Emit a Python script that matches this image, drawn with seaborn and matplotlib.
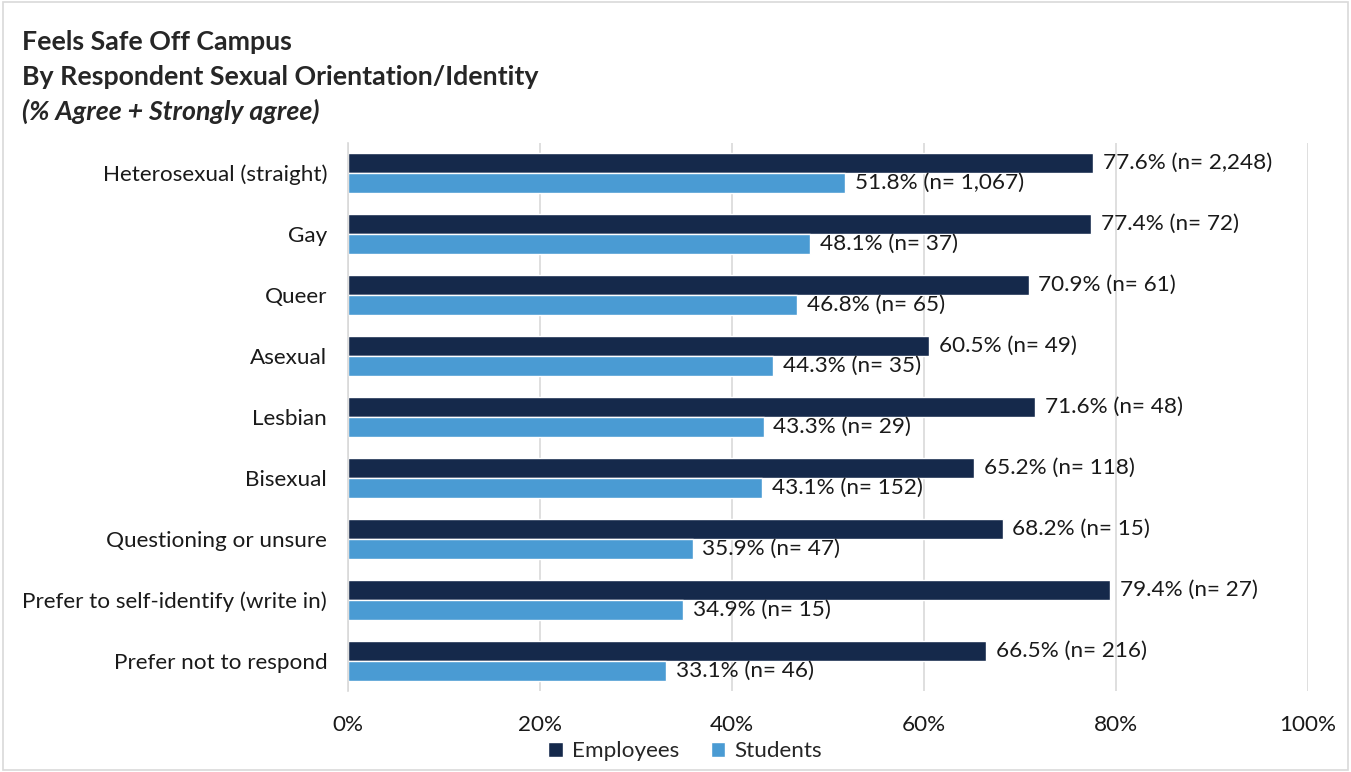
import matplotlib
matplotlib.use("Agg")
import matplotlib.pyplot as plt
import seaborn as sns
import pandas as pd
from matplotlib.patches import Patch, Rectangle

categories = [
    "Heterosexual (straight)", "Gay", "Queer", "Asexual", "Lesbian", "Bisexual",
    "Questioning or unsure", "Prefer to self-identify (write in)", "Prefer not to respond",
]
employees_pct = [77.6, 77.4, 70.9, 60.5, 71.6, 65.2, 68.2, 79.4, 66.5]
employees_n = ["2,248", "72", "61", "49", "48", "118", "15", "27", "216"]
students_pct = [51.8, 48.1, 46.8, 44.3, 43.3, 43.1, 35.9, 34.9, 33.1]
students_n = ["1,067", "37", "65", "35", "29", "152", "47", "15", "46"]
groups = ["Employees", "Students"]
colors = ["#15294B", "#4A9BD3"]
x_ticks = [0, 20, 40, 60, 80, 100]

df = pd.concat([
    pd.DataFrame({"cat": categories, "pct": employees_pct, "n": employees_n, "group": groups[0]}),
    pd.DataFrame({"cat": categories, "pct": students_pct, "n": students_n, "group": groups[1]}),
], ignore_index=True)

sns.set_theme(style="white")
plt.rcParams["font.family"] = ["Lato", "DejaVu Sans"]

FS = 16.2

fig = plt.figure(figsize=(13.51, 7.72), dpi=100)
ax = fig.add_axes([0.2576, 0.1043, 0.7106, 0.7111])

sns.barplot(data=df, y="cat", x="pct", hue="group", order=categories,
            hue_order=groups, palette=colors, orient="h", width=0.656,
            saturation=1, ax=ax, legend=False)

for container, grp in zip(ax.containers, groups):
    sub = df[df["group"] == grp].set_index("cat").loc[categories]
    labels = [f"{p:.1f}% (n= {n})" for p, n in zip(sub["pct"], sub["n"])]
    ax.bar_label(container, labels=labels, padding=7, fontsize=FS, color="#1a1a1a")

ax.set_xlim(0, 100)
ax.set_ylim(len(categories) - 0.5, -0.5)
ax.set_xticks(x_ticks)
ax.set_xticklabels([f"{t}%" for t in x_ticks], fontsize=FS, color="#1a1a1a")
ax.tick_params(axis="y", labelsize=FS, labelcolor="#1a1a1a", length=0, pad=15)
ax.tick_params(axis="x", length=0, pad=17)
ax.set_xlabel("")
ax.set_ylabel("")
ax.grid(axis="x", color="#d9d9d9", linewidth=1.2)
ax.set_axisbelow(True)
for s in ["top", "right", "bottom"]:
    ax.spines[s].set_visible(False)
ax.spines["left"].set_color("#d9d9d9")
ax.spines["left"].set_linewidth(1.2)

TFS = 19.3
fig.text(0.0163, 0.945, "Feels Safe Off Campus", fontsize=TFS, fontweight="bold", va="center")
fig.text(0.0163, 0.900, "By Respondent Sexual Orientation/Identity", fontsize=TFS, fontweight="bold", va="center")
fig.text(0.0163, 0.856, "(% Agree + Strongly agree)", fontsize=TFS, fontweight="bold",
         fontstyle="italic", va="center")

handles = [Patch(facecolor=c, label=g) for c, g in zip(colors, groups)]
fig.legend(handles=handles, loc="center", bbox_to_anchor=(0.507, 0.027), ncol=2,
           frameon=False, fontsize=FS, handlelength=0.65, handleheight=0.65,
           handletextpad=0.4, columnspacing=1.4)

fig.patches.append(Rectangle((0.002, 0.002), 0.996, 0.996, transform=fig.transFigure,
                             fill=False, edgecolor="#d9d9d9", linewidth=1.2))

fig.savefig("out.png", dpi=100)
